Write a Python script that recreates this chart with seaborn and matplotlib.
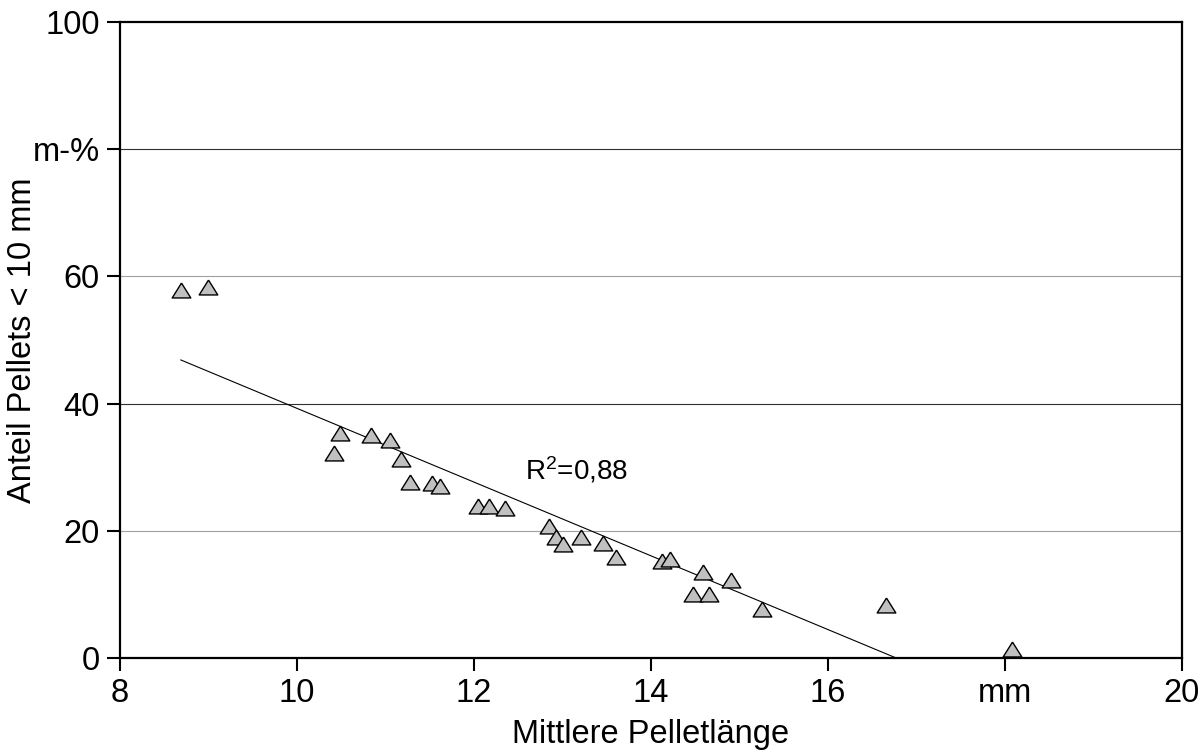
import matplotlib
matplotlib.use("Agg")
import matplotlib.pyplot as plt
import numpy as np
import pandas as pd
import seaborn as sns

# Mean pellet length (mm) and share of pellets shorter than 10 mm (m-%)
pellet_length = [8.685, 8.995, 10.48, 10.42, 10.835, 11.055, 11.18, 11.28, 11.52, 11.62,
                 12.04, 12.17, 12.35, 12.85, 12.93, 13.01, 13.21, 13.46, 13.60, 14.12,
                 14.22, 14.59, 14.90, 14.475, 14.655, 15.25, 16.66, 18.08]
share_below_10mm = [57.9, 58.4, 35.4, 32.3, 35.1, 34.3, 31.3, 27.6, 27.5, 27.1,
                    23.9, 23.9, 23.6, 20.8, 19.0, 18.0, 19.0, 18.1, 15.9, 15.2,
                    15.6, 13.5, 12.2, 10.1, 10.0, 7.7, 8.4, 1.4]

x_ticks = [8, 10, 12, 14, 16, 18, 20]
x_ticklabels = ["8", "10", "12", "14", "16", "mm", "20"]
y_ticks = [0, 20, 40, 60, 80, 100]
y_ticklabels = ["0", "20", "40", "60", "m-%", "100"]
r2_label = r"R$^2$=0,88"

df = pd.DataFrame({"length": pellet_length, "share": share_below_10mm})

sns.set_theme(style="white")
plt.rcParams["font.family"] = ["Liberation Sans", "DejaVu Sans"]
plt.rcParams["mathtext.fontset"] = "custom"
plt.rcParams["mathtext.rm"] = "Liberation Sans"
plt.rcParams["mathtext.it"] = "Liberation Sans"
plt.rcParams["text.color"] = "black"
plt.rcParams["axes.labelcolor"] = "black"

fig = plt.figure(figsize=(12.03, 7.51), dpi=100)
ax = fig.add_axes([0.0998, 0.1238, 0.8827, 0.8469])

# Triangle marker, slightly wider than tall
tri = [(0, 0.8), (-1, -0.8), (1, -0.8), (0, 0.8)]

sns.regplot(data=df, x="length", y="share", ax=ax, ci=None, marker=tri,
            scatter_kws=dict(s=180, facecolor="#c0c0c0", edgecolor="black",
                             linewidths=1.0, alpha=1, zorder=3),
            line_kws=dict(color="black", linewidth=0.8, zorder=2))

ax.set_xlim(8, 20)
ax.set_ylim(0, 100)
ax.set_xticks(x_ticks)
ax.set_xticklabels(x_ticklabels)
ax.set_yticks(y_ticks)
ax.set_yticklabels(y_ticklabels)

ax.set_xlabel("Mittlere Pelletlänge", fontsize=23.5, labelpad=7)
ax.set_ylabel("Anteil Pellets < 10 mm", fontsize=23.5)
ax.yaxis.set_label_coords(-0.077, 0.5)

ax.tick_params(axis="both", which="major", direction="out", length=9.5, width=1.5,
               labelsize=23.5, color="black", labelcolor="black", pad=5,
               bottom=True, left=True)

ax.yaxis.grid(True, linewidth=0.8)
grid_colors = {20: "#a0a0a0", 40: "#303030", 60: "#a0a0a0", 80: "#303030"}
for val, gl in zip(y_ticks, ax.get_ygridlines()):
    gl.set_color(grid_colors.get(val, "none"))
ax.xaxis.grid(False)
ax.set_axisbelow(True)

for side in ["left", "right", "top", "bottom"]:
    ax.spines[side].set_visible(True)
    ax.spines[side].set_color("black")
    ax.spines[side].set_linewidth(1.6)

ax.text(12.58, 29.6, r2_label, fontsize=20, ha="left", va="center", color="black")

fig.savefig("out.png", dpi=100, facecolor="white")
